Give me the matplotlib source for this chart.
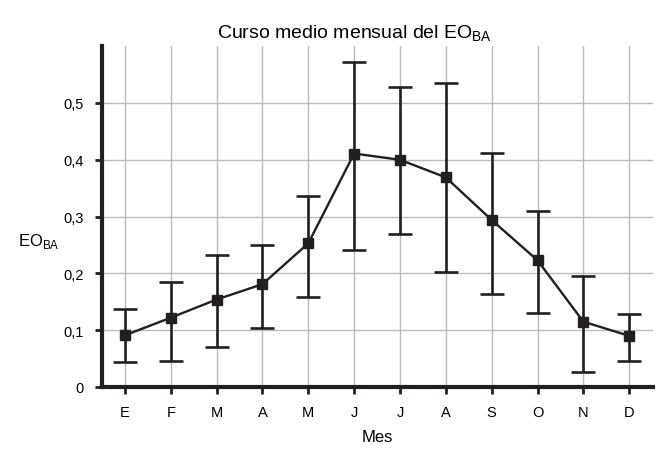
import numpy as np
import matplotlib.pyplot as plt

plt.rcParams['font.family'] = ['Liberation Sans', 'DejaVu Sans']

# Monthly mean of EO_BA with lower / upper spread
meses = ["E", "F", "M", "A", "M", "J", "J", "A", "S", "O", "N", "D"]
media = [0.091, 0.122, 0.154, 0.181, 0.253, 0.411, 0.400, 0.369, 0.294, 0.223, 0.115, 0.090]
sup = [0.138, 0.185, 0.233, 0.250, 0.337, 0.572, 0.528, 0.536, 0.412, 0.309, 0.196, 0.128]
inf = [0.044, 0.046, 0.070, 0.103, 0.158, 0.241, 0.270, 0.203, 0.164, 0.131, 0.027, 0.046]

x = np.arange(1, len(meses) + 1)
media = np.array(media)
err = [media - np.array(inf), np.array(sup) - media]

fig = plt.figure(figsize=(6.56, 4.52), dpi=100)
ax = fig.add_axes([0.1555, 0.1416, 0.84, 0.754])

ax.errorbar(x, media, yerr=err, color="#231f20", lw=1.7, marker="s", ms=7,
            elinewidth=1.9, capsize=8.5, capthick=1.9, zorder=3)

ax.set_xlim(0.5, 12.52)
ax.set_ylim(0, 0.6)
ax.set_xticks(x)
ax.set_xticklabels(meses)
ax.set_yticks([0, 0.1, 0.2, 0.3, 0.4, 0.5])
ax.set_yticklabels(["0", "0,1", "0,2", "0,3", "0,4", "0,5"])

ax.grid(True, color="#bbbbbb", lw=1)
ax.set_axisbelow(True)

for s in ["top", "right"]:
    ax.spines[s].set_visible(False)
for s in ["left", "bottom"]:
    ax.spines[s].set_linewidth(3)
    ax.spines[s].set_color("#231f20")

ax.tick_params(axis="both", length=5, width=2, color="#231f20", labelsize=10.5, pad=8)

fig.text(0.541, 0.925, "Curso medio mensual del EO$_{\\mathregular{BA}}$",
         fontsize=14, ha="center", va="center")
ax.set_xlabel("Mes", fontsize=12, labelpad=7)
ax.set_ylabel("EO$_{\\mathregular{BA}}$", fontsize=12, rotation=0, va="center")
ax.yaxis.set_label_coords(-0.115, 0.43)

fig.savefig("out.png", dpi=100)
